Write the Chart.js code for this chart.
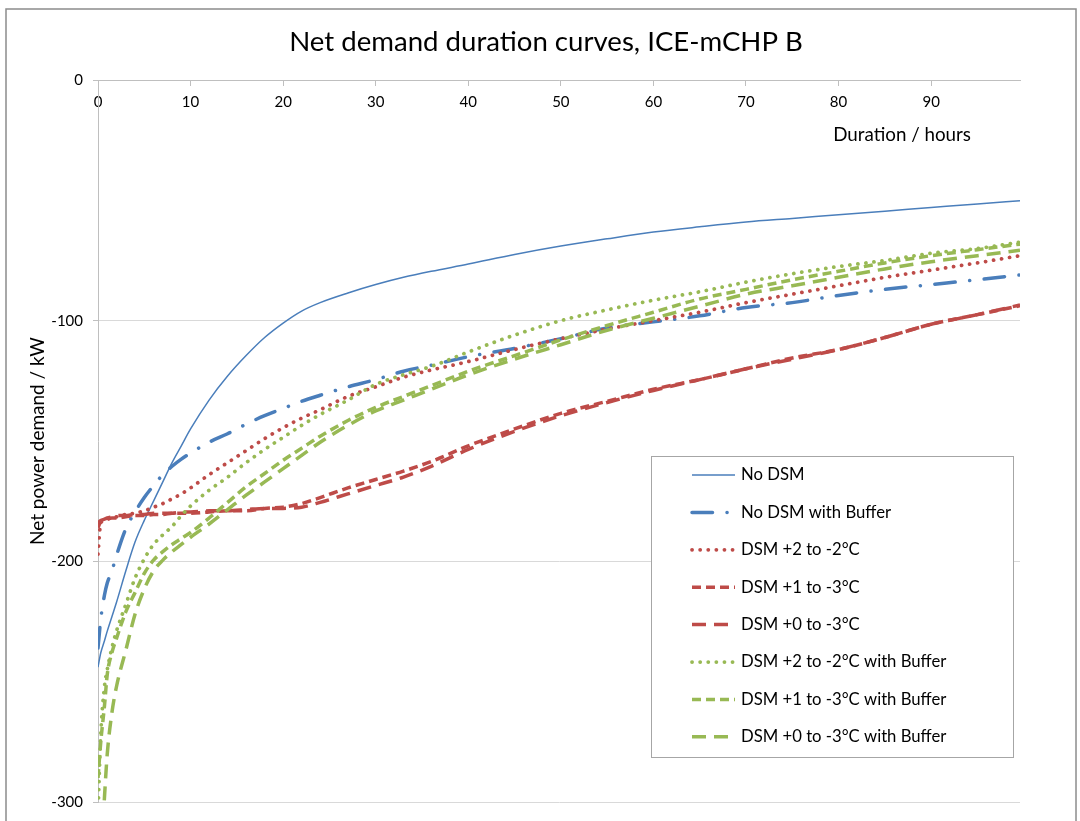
<!DOCTYPE html>
<html>
<head>
<meta charset="utf-8">
<title>Net demand duration curves</title>
<script src="https://cdn.jsdelivr.net/npm/chart.js@4.4.1/dist/chart.umd.min.js"></script>
<style>
  html, body { margin: 0; padding: 0; background: #fff; }
  #wrap { width: 1080px; height: 821px; }
</style>
</head>
<body>
<div id="wrap"><canvas id="durationChart" width="1080" height="821"></canvas></div>
<script>
// Hours at which every curve is sampled
const hours = [0, 0.3, 0.7, 1, 1.5, 2, 3, 4, 5, 6, 7, 8, 9, 10, 12, 14, 16, 18, 20, 22, 24, 27, 30, 33, 36, 40, 45, 50, 55, 60, 65, 70, 75, 80, 85, 90, 95, 99.6];

// Net power demand (kW) per scenario
const noDsm = [-244, -238, -233, -229, -223, -217, -204, -192, -183, -175, -167, -159, -152, -145, -133, -123, -114.5, -107, -101, -96, -92.5, -88.5, -85, -82, -79.5, -76.5, -72.5, -69, -66, -63.2, -61, -59, -57.5, -56, -54.5, -53, -51.5, -50.2];
const noDsmBuffer = [-236, -224, -214, -209, -204, -197.5, -186.5, -179.5, -173.5, -168.5, -164, -160.5, -157.5, -155, -150.5, -147, -143, -139.5, -136.5, -133.5, -131, -127.5, -124.5, -121, -118.5, -115, -111.5, -107.5, -103, -100.5, -98, -94.5, -92.5, -89.5, -87, -85, -83, -81];
const dsm2to2 = [-197, -184, -183, -182.5, -182, -181.5, -180.5, -180, -179, -177.5, -176, -174, -172, -169.5, -164, -159, -154, -149, -144.5, -140.5, -137, -131.5, -127.5, -123.5, -120.5, -117, -112, -107.5, -103.5, -100, -96.5, -92.5, -89, -85.5, -82, -79, -76, -73];
const dsm1to3 = [-186, -183.5, -183, -182.5, -182, -182, -181.5, -181, -181, -180.5, -180.5, -180, -180, -180, -179.5, -179, -179, -178, -177.5, -176, -173.5, -169.5, -166, -162.5, -158.5, -152, -145, -138.5, -133.5, -128.5, -124.5, -120, -115.5, -112, -107, -101.5, -97.5, -93.8];
const dsm0to3 = [-184, -183, -182.5, -182, -181.5, -181, -181, -180.5, -180.5, -180, -180, -180, -179.5, -179.5, -179, -179, -178.5, -178, -178, -177.5, -175.5, -172, -168.5, -165, -160.5, -153.5, -146, -139.5, -134, -129, -124.5, -120, -116, -112, -107, -101.5, -97.5, -93.5];
const dsm2to2Buffer = [-305, -272, -252, -245, -236, -229, -218, -207, -199, -193, -189, -185.5, -181, -177, -170.5, -165, -159, -153.5, -148.5, -143.5, -139, -133, -126.5, -122.5, -119, -113, -106, -100, -95.5, -91.5, -88, -84, -80.5, -77.5, -75, -72, -70, -67.4];
const dsm1to3Buffer = [-290, -275, -260, -247, -238, -232, -221, -213, -205, -199.5, -196, -193, -190.5, -188, -182, -175.5, -169, -163.5, -158, -153, -148, -141.5, -136, -131.5, -127, -121, -114.5, -108, -102, -96.5, -91, -87, -83, -79.5, -76, -73, -70.5, -68.2];
const dsm0to3Buffer = [-345, -325, -298, -280, -263, -252, -237, -222, -211.5, -204, -199.5, -196, -193, -190, -184.5, -178.5, -172.5, -167, -161.5, -156, -150.5, -143.5, -137.5, -133, -128.5, -122.5, -116, -110, -104, -99, -94, -89, -85.5, -82, -78.5, -75.5, -73, -70.7];

const seriesLabels = [
  'No DSM',
  'No DSM with Buffer',
  'DSM +2 to -2°C',
  'DSM +1 to -3°C',
  'DSM +0 to -3°C',
  'DSM +2 to -2°C with Buffer',
  'DSM +1 to -3°C with Buffer',
  'DSM +0 to -3°C with Buffer'
];
const seriesValues = [noDsm, noDsmBuffer, dsm2to2, dsm1to3, dsm0to3, dsm2to2Buffer, dsm1to3Buffer, dsm0to3Buffer];

const yTicks = { min: -300, max: 0, step: 100 };
const xTicks = { min: 0, max: 99.6, step: 10 };

const chartTitle = 'Net demand duration curves, ICE-mCHP B';
const xTitle = 'Duration / hours';
const yTitle = 'Net power demand / kW';

const BLUE = '#4a7ebb';
const RED = '#be4b48';
const GREEN = '#98b954';

// line look for each series, same order as the labels
const styles = [
  { color: BLUE, width: 1.5, dash: [], cap: 'butt' },
  { color: BLUE, width: 3.5, dash: [20.5, 14.5, 0.1, 14.5], cap: 'round' },
  { color: RED, width: 3.75, dash: [0.1, 8], cap: 'round' },
  { color: RED, width: 3.5, dash: [9, 5], cap: 'butt' },
  { color: RED, width: 3.5, dash: [14, 8], cap: 'butt' },
  { color: GREEN, width: 3.75, dash: [0.1, 8], cap: 'round' },
  { color: GREEN, width: 3.5, dash: [9, 5], cap: 'butt' },
  { color: GREEN, width: 3.5, dash: [14, 8], cap: 'butt' }
];

const FONT = 'Lato';
Chart.defaults.font.family = FONT;
Chart.defaults.color = '#000';

const datasets = seriesLabels.map((label, i) => ({
  label: label,
  data: hours.map((h, k) => ({ x: h, y: seriesValues[i][k] })),
  borderColor: styles[i].color,
  backgroundColor: styles[i].color,
  borderWidth: styles[i].width,
  borderDash: styles[i].dash,
  borderCapStyle: styles[i].cap,
  borderJoinStyle: 'round',
  pointRadius: 0,
  cubicInterpolationMode: 'monotone',
  fill: false,
  order: seriesLabels.length - i   // later series on top
}));

// white page, outer frame and the chart heading
const frame = {
  id: 'frame',
  beforeDraw(chart) {
    const ctx = chart.ctx;
    ctx.save();
    ctx.fillStyle = '#fff';
    ctx.fillRect(0, 0, chart.width, chart.height);
    ctx.strokeStyle = '#8c8c8c';
    ctx.lineWidth = 1.5;
    ctx.strokeRect(6, 9, 1070, 840);
    ctx.fillStyle = '#000';
    ctx.font = '27.6px ' + FONT;
    ctx.textAlign = 'center';
    ctx.textBaseline = 'middle';
    ctx.fillText(chartTitle, 546, 42);
    ctx.restore();
  }
};

// boxed legend inside the plot plus the x axis caption
const boxLegend = {
  id: 'boxLegend',
  afterDraw(chart) {
    const ctx = chart.ctx;
    ctx.save();
    ctx.fillStyle = '#fff';
    ctx.fillRect(651, 456, 362, 301);
    ctx.strokeStyle = '#a6a6a6';
    ctx.lineWidth = 1;
    ctx.strokeRect(651.5, 456.5, 362, 301);
    chart.data.datasets.forEach((ds, i) => {
      const y = 475 + i * 37.4;
      ctx.beginPath();
      ctx.setLineDash(ds.borderDash);
      ctx.lineCap = ds.borderCapStyle;
      ctx.strokeStyle = ds.borderColor;
      ctx.lineWidth = ds.borderWidth;
      ctx.moveTo(692, y);
      ctx.lineTo(735, y);
      ctx.stroke();
      ctx.setLineDash([]);
      ctx.fillStyle = '#000';
      ctx.font = '16.7px ' + FONT;
      ctx.textAlign = 'left';
      ctx.textBaseline = 'middle';
      ctx.fillText(ds.label, 741, y);
    });

    ctx.font = '18.8px ' + FONT;
    ctx.textAlign = 'right';
    ctx.textBaseline = 'middle';
    ctx.fillText(xTitle, 971, 135);
    ctx.restore();
  }
};

new Chart(document.getElementById('durationChart'), {
  type: 'line',
  data: { datasets: datasets },
  options: {
    responsive: false,
    animation: false,
    devicePixelRatio: 1,
    layout: { padding: { left: 0, right: 60, top: 80, bottom: 15 } },
    plugins: {
      legend: { display: false },
      tooltip: { enabled: false },
      title: { display: false }
    },
    scales: {
      x: {
        type: 'linear',
        position: { y: 0 },
        min: xTicks.min,
        max: xTicks.max,
        grid: { display: true, drawOnChartArea: false, tickLength: 5, tickColor: '#bfbfbf' },
        border: { display: true, color: '#bfbfbf', width: 1 },
        ticks: { stepSize: xTicks.step, includeBounds: false, padding: 8, font: { size: 15 }, color: '#000', maxRotation: 0 }
      },
      y: {
        type: 'linear',
        position: 'left',
        min: yTicks.min,
        max: yTicks.max,
        afterFit(scale) { scale.width = 98; },
        grid: { color: '#d9d9d9', tickLength: 5, tickColor: '#bfbfbf' },
        border: { display: true, color: '#bfbfbf', width: 1 },
        ticks: { stepSize: yTicks.step, padding: 10, font: { size: 15 }, color: '#000' },
        title: {
          display: true,
          text: yTitle,
          font: { family: FONT, size: 19 },
          color: '#000',
          padding: { top: 26, bottom: 0 }
        }
      }
    }
  },
  plugins: [frame, boxLegend]
});
</script>
</body>
</html>
